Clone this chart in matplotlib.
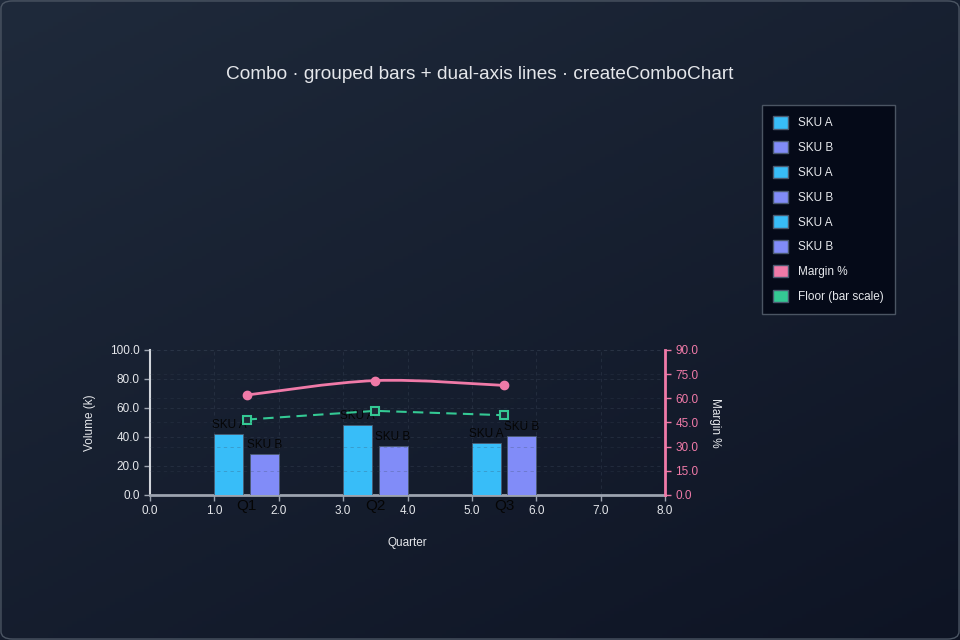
import numpy as np
import matplotlib
matplotlib.use("Agg")
from matplotlib import pyplot as plt
from matplotlib.patches import FancyBboxPatch, Patch, PathPatch
from matplotlib.path import Path

plt.rcParams["font.family"] = ["Liberation Sans", "DejaVu Sans"]

# data
quarters = ["Q1", "Q2", "Q3"]
quarter_pos = [1.5, 3.5, 5.5]
sku_a = [42, 48, 36]
sku_b = [28, 34, 41]
margin_pct = [62, 71, 68]
floor_vals = [52, 58, 55]

col_a = "#38bdf8"
col_b = "#818cf8"
col_margin = "#f07aa8"
col_floor = "#34c994"
txt = "#e5e7eb"
dark_txt = "#050505"


def smooth_path(xs, ys):
	# catmull-rom style bezier through the points (drawing only)
	pts = np.column_stack([xs, ys]).astype(float)
	verts = [pts[0]]
	codes = [Path.MOVETO]
	n = len(pts)
	for i in range(n - 1):
		p0 = pts[i - 1] if i > 0 else pts[i]
		p1 = pts[i]
		p2 = pts[i + 1]
		p3 = pts[i + 2] if i + 2 < n else pts[i + 1]
		c1 = p1 + (p2 - p0) / 6.0
		c2 = p2 - (p3 - p1) / 6.0
		verts += [c1, c2, p2]
		codes += [Path.CURVE4] * 3
	return Path(verts, codes)


fig = plt.figure(figsize=(9.6, 6.4), dpi=100)

# background gradient
bg = fig.add_axes([0, 0, 1, 1], zorder=-10)
gx, gy = np.meshgrid(np.linspace(0, 1, 200), np.linspace(0, 1, 200))
g = (gx * 0.6 + gy * 0.8) / 1.4
c0 = np.array([0x1f, 0x2a, 0x3b]) / 255.0
c1 = np.array([0x0e, 0x14, 0x24]) / 255.0
img = c0[None, None, :] * (1 - g[..., None]) + c1[None, None, :] * g[..., None]
bg.imshow(img, extent=[0, 1, 0, 1], aspect="auto", origin="upper")
bg.set_xlim(0, 1)
bg.set_ylim(0, 1)
bg.axis("off")
fig.patches.append(FancyBboxPatch((0.001, 0.0015), 0.998, 0.997, boxstyle="round,pad=0,rounding_size=0.012",
	transform=fig.transFigure, fill=False, edgecolor="#4b5563", linewidth=1.0))

fig.text(0.5, 0.884, "Combo · grouped bars + dual-axis lines · createComboChart", ha="center", va="center",
	color=txt, fontsize=13.7)

ax = fig.add_axes([0.15625, 0.2266, 0.5365, 0.2266])
ax.set_facecolor("none")
ax2 = ax.twinx()

w = 0.45
xa = [q - 0.5 + w / 2 for q in quarter_pos]
xb = [q + 0.5 - w / 2 for q in quarter_pos]
ba = ax.bar(xa, sku_a, w, color=col_a, edgecolor="#4b5a70", linewidth=0.6, zorder=3)
bb = ax.bar(xb, sku_b, w, color=col_b, edgecolor="#4b5a70", linewidth=0.6, zorder=3)
for r in ba:
	ax.text(r.get_x() + r.get_width() / 2, r.get_height() + 2, "SKU A", ha="center", va="bottom",
		color=dark_txt, fontsize=8.5, zorder=4)
for r in bb:
	ax.text(r.get_x() + r.get_width() / 2, r.get_height() + 2, "SKU B", ha="center", va="bottom",
		color=dark_txt, fontsize=8.5, zorder=4)

ax.plot(quarter_pos, floor_vals, color=col_floor, linestyle=(0, (5, 3)), linewidth=1.5, zorder=5,
	marker="s", markersize=5.5, markerfacecolor="#1f2937", markeredgecolor=col_floor, markeredgewidth=1.5)

ax.set_xlim(0, 8)
ax.set_ylim(0, 100)
ax.set_xticks(np.arange(0, 9, 1.0))
ax.set_xticklabels(["%.1f" % v for v in np.arange(0, 9, 1.0)])
ax.set_yticks(np.arange(0, 101, 20))
ax.set_yticklabels(["%.1f" % v for v in np.arange(0, 101, 20)])
ax.grid(True, color="#3a4658", linestyle=(0, (4, 4)), linewidth=0.6, alpha=0.45, zorder=0)
ax.set_axisbelow(True)

for q, lab in zip(quarter_pos, quarters):
	ax.annotate(lab, xy=(q, 0), xycoords=("data", "axes fraction"), xytext=(0, -3),
		textcoords="offset points", ha="center", va="top", color=dark_txt, fontsize=11, zorder=6,
		annotation_clip=False)

ax2.set_ylim(0, 90)
ax2.set_yticks(np.arange(0, 91, 15))
ax2.set_yticklabels(["%.1f" % v for v in np.arange(0, 91, 15)])
path = smooth_path(quarter_pos, margin_pct)
ax2.add_patch(PathPatch(path, facecolor="none", edgecolor=col_margin, linewidth=2, zorder=5))
ax2.plot(quarter_pos, margin_pct, linestyle="none", marker="o", markersize=6, color=col_margin, zorder=6)
ax2.grid(True, axis="y", color="#3a4658", linestyle=(0, (4, 4)), linewidth=0.6, alpha=0.3)

for a in (ax, ax2):
	a.spines["top"].set_visible(False)
ax.spines["right"].set_visible(False)
ax2.spines["left"].set_visible(False)
ax2.spines["bottom"].set_visible(False)
ax.spines["left"].set_color("#d1d5db")
ax.spines["left"].set_linewidth(1.5)
ax.spines["bottom"].set_color("#9ca3af")
ax.spines["bottom"].set_linewidth(2)
ax2.spines["right"].set_color(col_margin)
ax2.spines["right"].set_linewidth(2)
ax.tick_params(axis="both", colors="#9ca3af", labelcolor=txt, labelsize=8.5, length=4, width=1)
ax2.tick_params(axis="y", colors=col_margin, labelcolor=col_margin, labelsize=8.5, length=4, width=1)

ax.set_ylabel("Volume (k)", color=txt, fontsize=8.5, labelpad=10)
ax.set_xlabel("Quarter", color=txt, fontsize=8.5, labelpad=14)
ax2.set_ylabel("Margin %", color=txt, fontsize=8.5, rotation=270, labelpad=16)

handles = []
for i in range(len(quarters)):
	handles.append(Patch(facecolor=col_a, edgecolor="#4b5a70", label="SKU A"))
	handles.append(Patch(facecolor=col_b, edgecolor="#4b5a70", label="SKU B"))
handles.append(Patch(facecolor=col_margin, edgecolor="#4b5a70", label="Margin %"))
handles.append(Patch(facecolor=col_floor, edgecolor="#4b5a70", label="Floor (bar scale)"))
leg = fig.legend(handles=handles, loc="upper left", bbox_to_anchor=(0.7938, 0.836), frameon=True,
	fontsize=8.5, labelcolor=txt, handlelength=1.25, handleheight=1.25, handletextpad=0.85,
	labelspacing=0.98, borderpad=0.95, borderaxespad=0, fancybox=False)
leg.get_frame().set_facecolor("#050a18")
leg.get_frame().set_edgecolor("#4b5563")
leg.get_frame().set_alpha(1)

fig.savefig("out.png", dpi=100)
